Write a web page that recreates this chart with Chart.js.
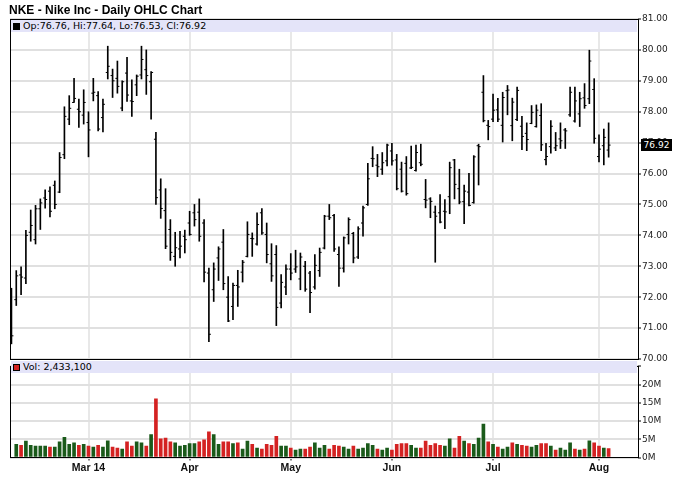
<!DOCTYPE html>
<html>
<head>
<meta charset="utf-8">
<script src="https://cdn.jsdelivr.net/npm/chart.js@4.4.1/dist/chart.umd.min.js"></script>
<style>
  body { margin: 0; background: #fff; font-family: "Liberation Sans", Arial, sans-serif; }
  #wrap { position: relative; width: 680px; height: 497px; overflow: hidden; }
  #title { position: absolute; left: 9px; top: 3px; font-size: 12px; font-weight: bold; color: #000; }
  #pc { position: absolute; left: 0; top: 0; }
  #vc { position: absolute; left: 0; top: 360px; }
  .band { position: absolute; left: 11px; width: 626px; height: 12px; background: #e4e4f9;
          font-family: "DejaVu Sans", Verdana, sans-serif; font-size: 9.5px; line-height: 12px; color: #000; white-space: nowrap; }
  .band i { display: inline-block; width: 5px; height: 5px; border: 1px solid #000; margin: 0 3px 0 2px; vertical-align: -0.5px; }
  #lastbox { position: absolute; left: 641px; width: 31px; height: 12px; background: #000; color: #fff;
             font-family: "DejaVu Sans", Verdana, sans-serif; font-size: 9px; line-height: 12px; text-align: center; }
</style>
</head>
<body>
<div id="wrap">
  <canvas id="pc" width="680" height="368"></canvas>
  <canvas id="vc" width="680" height="137"></canvas>
  <div id="title">NKE - Nike Inc - Daily OHLC Chart</div>
  <div class="band" id="priceBand" style="top:20px"></div>
  <div class="band" id="volBand" style="top:361px"></div>
</div>
<script>
// daily bars, 6 Feb 2014 .. 5 Aug 2014 (index = trading day)
const opens = [71.50,71.92,72.72,72.62,74.10,73.86,74.86,75.21,75.43,75.62,
  75.40,76.61,77.76,78.30,78.08,77.89,77.65,78.60,78.52,77.81,
  79.27,79.17,79.08,78.12,79.25,78.35,78.87,79.19,79.36,78.97,
  77.11,75.47,74.80,74.19,73.32,73.56,73.97,74.40,74.73,74.75,
  74.40,72.78,72.24,73.27,73.78,72.00,71.70,72.38,72.81,73.32,
  73.90,73.72,74.73,74.03,73.08,73.38,71.81,72.33,72.91,72.91,
  72.59,73.00,72.78,72.33,72.86,73.59,74.62,74.64,73.38,72.94,
  74.03,74.06,73.30,74.40,75.00,76.49,76.27,76.14,76.41,76.73,
  76.44,76.14,76.33,76.18,76.10,76.35,75.16,75.18,74.75,74.73,
  74.78,75.25,76.44,75.51,75.09,75.40,75.06,76.90,78.63,77.56,
  77.76,78.06,77.56,78.68,77.55,77.75,77.53,77.30,77.62,77.52,
  77.88,76.45,76.87,76.83,77.12,77.41,77.90,77.70,77.93,78.45,
  78.42,78.72,76.55,76.90,76.76];
const highs = [72.29,72.86,72.98,74.16,74.82,74.97,75.18,75.47,75.57,75.76,
  76.68,78.16,78.52,79.08,78.41,78.71,78.00,79.08,78.65,78.41,
  80.12,79.38,79.64,79.00,79.76,79.03,79.19,80.12,80.00,79.30,
  77.33,75.83,75.51,74.51,74.10,74.13,74.17,74.78,75.00,75.18,
  74.51,72.94,73.11,73.63,74.19,72.67,72.46,72.87,73.19,74.44,
  74.08,74.73,74.87,74.40,73.73,73.67,72.73,73.05,73.41,73.52,
  73.43,73.16,72.84,73.38,73.59,74.65,75.00,74.68,73.63,73.95,
  74.57,74.10,74.28,74.95,76.33,76.87,76.62,76.68,76.95,76.98,
  76.62,76.37,76.55,76.89,76.92,76.95,75.81,75.22,74.95,75.32,
  75.16,76.37,76.46,76.14,75.63,76.01,76.58,76.95,79.17,77.72,
  78.57,78.43,78.63,78.85,78.44,78.80,77.85,77.64,78.20,78.22,
  78.26,76.98,77.71,77.33,77.64,77.46,78.80,78.80,78.63,78.91,
  79.99,79.07,77.25,77.44,77.64];
const lows = [70.49,71.73,72.08,72.44,73.81,73.72,74.19,74.88,74.60,74.86,
  75.38,76.48,77.58,78.30,77.49,77.60,76.54,78.35,77.38,77.35,
  79.06,78.46,78.60,78.03,78.33,77.85,78.52,79.06,78.56,77.76,
  75.00,74.55,73.57,73.19,73.00,73.27,73.43,74.00,74.30,73.81,
  72.49,70.56,71.86,72.54,72.24,71.21,71.27,71.70,72.49,73.30,
  73.32,73.68,74.03,73.11,72.51,71.08,71.65,72.08,72.56,72.80,
  72.24,72.19,71.50,72.26,72.67,73.56,74.51,73.48,72.35,72.81,
  73.72,73.11,73.25,73.97,74.97,76.22,75.90,75.97,76.25,76.27,
  75.47,75.40,75.30,76.16,76.08,76.25,74.89,74.57,73.13,74.40,
  74.22,74.70,75.18,75.02,74.38,74.95,75.04,75.63,77.67,77.09,
  77.68,77.68,77.02,77.90,77.06,77.71,76.77,76.74,77.61,77.50,
  76.74,76.28,76.66,76.74,76.81,76.81,77.85,77.66,77.52,78.11,
  78.26,76.98,76.38,76.28,76.53];
const closes = [70.75,72.69,72.65,74.00,74.32,74.86,75.05,75.16,74.78,75.00,
  76.52,77.85,78.11,78.43,78.00,78.30,77.41,78.63,77.44,78.24,
  79.47,79.00,78.82,78.97,78.54,78.33,79.15,79.69,79.17,79.27,
  75.22,74.87,73.65,73.45,73.60,73.65,73.86,74.03,74.51,73.97,
  72.81,70.80,72.91,73.56,72.44,71.23,72.38,72.33,73.13,74.03,
  73.89,74.35,74.08,73.38,72.69,71.67,72.48,72.91,72.78,72.98,
  73.30,72.26,72.15,73.03,73.45,74.62,74.57,73.56,72.94,73.92,
  74.51,73.27,74.21,74.89,75.83,76.48,76.22,76.35,76.92,76.41,
  75.51,75.43,75.35,76.20,76.68,76.30,75.14,75.10,74.62,74.43,
  74.76,76.19,75.65,75.08,75.43,74.97,76.54,76.87,77.71,77.52,
  78.05,77.76,78.46,78.70,78.31,78.69,77.20,77.10,77.98,78.05,
  76.93,76.55,77.53,76.90,77.06,77.38,78.63,78.35,78.42,78.20,
  79.64,77.14,76.79,77.17,76.92];
// volume in millions of shares
const volumes = [null,3.62,3.36,4.48,3.36,3.10,3.10,3.10,2.84,2.84,
  4.31,5.52,3.62,4.05,3.36,3.62,3.10,2.84,3.36,2.84,
  4.57,2.84,2.59,2.33,4.31,3.10,4.31,4.05,3.10,6.29,
  16.1,5.09,5.34,4.31,4.05,3.10,3.36,3.79,3.79,4.31,
  4.83,7.07,6.29,3.62,4.31,4.31,3.79,4.05,2.33,4.48,
  3.62,2.59,2.33,3.62,3.36,5.78,3.10,3.10,2.59,2.07,
  2.33,2.33,2.84,4.05,2.59,3.36,2.33,3.36,3.10,2.84,
  2.33,3.10,2.33,2.59,3.79,3.36,2.33,2.07,2.59,2.07,
  3.62,3.79,3.79,3.36,2.59,2.59,4.48,3.36,3.79,3.36,
  3.10,5.09,2.59,5.78,4.48,3.79,3.62,5.34,9.14,4.31,
  3.62,2.84,2.33,2.84,4.05,3.62,3.36,3.10,2.84,3.36,
  3.79,3.79,3.10,2.07,2.59,2.07,4.05,2.33,2.07,2.33,
  4.57,4.05,3.10,2.59,2.4331];
// first trading day of each month
const monthIdx = [16, 37, 58, 79, 100, 122];
const monthLabels = ['Mar 14', 'Apr', 'May', 'Jun', 'Jul', 'Aug'];

const days = closes.map((_, i) => i);
const last = closes.length - 1;

Chart.defaults.font.family = '"DejaVu Sans", Verdana, sans-serif';
Chart.defaults.font.size = 9;
Chart.defaults.color = '#222';

const xBase = {
  type: 'linear', min: -0.3, max: 130.1, offset: false,
  afterBuildTicks: s => { s.ticks = monthIdx.map(v => ({ value: v })); }
};

// black frame around each plot area
const frame = {
  id: 'frame',
  afterDraw(chart) {
    const { ctx, chartArea: a } = chart;
    ctx.save();
    ctx.strokeStyle = '#000';
    ctx.lineWidth = 1;
    ctx.strokeRect(Math.round(a.left) + 0.5, Math.round(a.top) + 0.5,
      Math.round(a.right - a.left), Math.round(a.bottom - a.top));
    ctx.restore();
  }
};

// open tick to the left, close tick to the right
const ohlcTicks = {
  id: 'ohlcTicks',
  afterDatasetsDraw(chart) {
    const { ctx, chartArea: a, scales: { x, y } } = chart;
    ctx.save();
    ctx.beginPath();
    ctx.rect(a.left, a.top, a.right - a.left, a.bottom - a.top);
    ctx.clip();
    ctx.strokeStyle = '#000';
    ctx.lineWidth = 1;
    ctx.beginPath();
    days.forEach(i => {
      const px = x.getPixelForValue(i);
      const yo = y.getPixelForValue(opens[i]);
      const yc = y.getPixelForValue(closes[i]);
      ctx.moveTo(px - 2, yo); ctx.lineTo(px, yo);
      ctx.moveTo(px, yc); ctx.lineTo(px + 2, yc);
    });
    ctx.stroke();
    ctx.restore();
  }
};

const priceChart = new Chart(document.getElementById('pc'), {
  type: 'bar',
  data: {
    datasets: [{
      data: days.map(i => ({ x: i, y: [lows[i], highs[i]] })),
      backgroundColor: '#000',
      barThickness: 1,
      borderWidth: 0
    }]
  },
  options: {
    responsive: false,
    animation: false,
    layout: { padding: { left: 10, top: 19, right: 0, bottom: 9 } },
    plugins: { legend: { display: false }, tooltip: { enabled: false } },
    scales: {
      x: {
        ...xBase,
        ticks: { display: false },
        grid: { color: '#e8e8e8', lineWidth: 2, drawTicks: false, offset: false },
        border: { display: false },
        afterFit: s => { s.height = 0; }
      },
      y: {
        position: 'right', min: 70, max: 81,
        ticks: { stepSize: 1, padding: 1, callback: v => v.toFixed(2) },
        grid: { color: '#e0e0e0', lineWidth: 2, tickLength: 3, tickColor: '#000', tickWidth: 1 },
        border: { display: false },
        afterFit: s => { s.width = 42; }
      }
    }
  },
  plugins: [ohlcTicks, frame]
});

new Chart(document.getElementById('vc'), {
  type: 'bar',
  data: {
    datasets: [{
      data: days.map(i => ({ x: i, y: volumes[i] })),
      backgroundColor: days.map(i => (i > 0 && closes[i] < closes[i - 1]) ? '#d42222' : '#1a5a1a'),
      barThickness: 3,
      borderWidth: 0
    }]
  },
  options: {
    responsive: false,
    animation: false,
    layout: { padding: { left: 10, top: 0, right: 0, bottom: 0 } },
    plugins: { legend: { display: false }, tooltip: { enabled: false } },
    scales: {
      x: {
        ...xBase,
        ticks: {
          autoSkip: false, maxRotation: 0, padding: 1, color: '#111',
          font: { family: '"Liberation Sans", Arial, sans-serif', size: 10.5, weight: 'bold' },
          callback: v => monthLabels[monthIdx.indexOf(v)]
        },
        grid: { color: '#e8e8e8', lineWidth: 2, tickLength: 3, tickColor: '#000', tickWidth: 1, offset: false },
        border: { display: false },
        afterFit: s => { s.height = 39.5; }
      },
      y: {
        position: 'right', min: 0, max: 25,
        ticks: { stepSize: 5, padding: 1, callback: v => v === 25 ? '' : v + 'M' },
        grid: { color: '#e0e0e0', lineWidth: 2, tickLength: 3, tickColor: '#000', tickWidth: 1 },
        border: { display: false },
        afterFit: s => { s.width = 42; }
      }
    }
  },
  plugins: [frame]
});

// legends and last-price marker (text from the data)
document.getElementById('priceBand').innerHTML = '<i style="background:#000"></i>' +
  'Op:' + opens[last].toFixed(2) + ', Hi:' + highs[last].toFixed(2) +
  ', Lo:' + lows[last].toFixed(2) + ', Cl:' + closes[last].toFixed(2);
document.getElementById('volBand').innerHTML = '<i style="background:#d42222"></i>' +
  'Vol: ' + Math.round(volumes[last] * 1e6).toLocaleString('en-US');

const box = document.createElement('div');
box.id = 'lastbox';
box.textContent = closes[last].toFixed(2);
box.style.top = (priceChart.scales.y.getPixelForValue(closes[last]) - 6) + 'px';
document.getElementById('wrap').appendChild(box);
</script>
</body>
</html>
